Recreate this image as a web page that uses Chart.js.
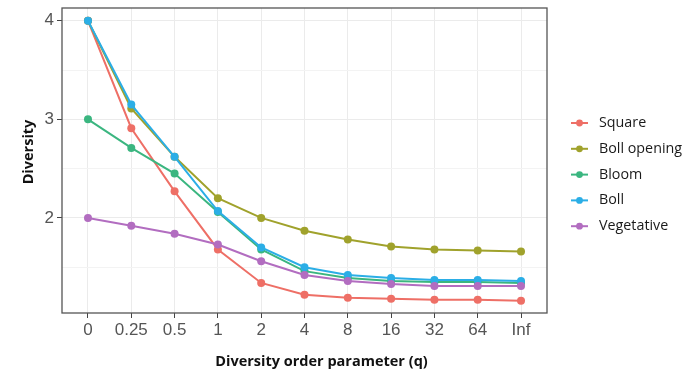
<!DOCTYPE html>
<html>
<head>
<meta charset="utf-8">
<script src="https://cdn.jsdelivr.net/npm/chart.js@4/dist/chart.umd.min.js"></script>
<style>
  html, body { margin: 0; padding: 0; background: #fff; }
  #wrap { width: 696px; height: 374px; position: relative; }
</style>
</head>
<body>
<div id="wrap"><canvas id="divChart"></canvas></div>
<script>
const qLabels = ["0", "0.25", "0.5", "1", "2", "4", "8", "16", "32", "64", "Inf"];
const square = [4.0, 2.91, 2.27, 1.68, 1.34, 1.22, 1.19, 1.18, 1.17, 1.17, 1.16];
const bollOpening = [4.0, 3.11, 2.62, 2.20, 2.00, 1.87, 1.78, 1.71, 1.68, 1.67, 1.66];
const bloom = [3.0, 2.71, 2.45, 2.06, 1.68, 1.46, 1.39, 1.36, 1.35, 1.35, 1.34];
const boll = [4.0, 3.15, 2.62, 2.07, 1.70, 1.50, 1.42, 1.39, 1.37, 1.37, 1.36];
const vegetative = [2.0, 1.92, 1.84, 1.73, 1.56, 1.42, 1.36, 1.33, 1.31, 1.31, 1.31];
const yTicks = [1.5, 2, 2.5, 3, 3.5, 4];

const seriesNames = ["Square", "Boll opening", "Bloom", "Boll", "Vegetative"];
const seriesData = [square, bollOpening, bloom, boll, vegetative];
const seriesColors = ["#EE6F66", "#A0A22C", "#3BB680", "#2BAEE6", "#B26DC0"];

const xTitle = "Diversity order parameter (q)";
const yTitle = "Diversity";

document.addEventListener("DOMContentLoaded", () => {
  const canvas = document.getElementById("divChart");
  const ctx = canvas.getContext("2d");

  const datasets = seriesNames.map((name, i) => ({
    label: name,
    data: seriesData[i].map((v, j) => ({ x: j, y: v })),
    borderColor: seriesColors[i],
    backgroundColor: seriesColors[i],
    borderWidth: 2,
    pointRadius: 4,
    pointHoverRadius: 4,
    pointBorderWidth: 0,
    tension: 0,
    order: seriesNames.length - i
  }));

  // panel border, axis titles and ggplot-style legend
  const panelAndLegend = {
    id: "panelAndLegend",
    afterDatasetsDraw(chart) {
      const { ctx, chartArea } = chart;
      ctx.save();
      ctx.strokeStyle = "#555";
      ctx.lineWidth = 1.3;
      ctx.strokeRect(chartArea.left, chartArea.top,
        chartArea.right - chartArea.left, chartArea.bottom - chartArea.top);

      // axis titles (the figure centres them slightly off the panel centre)
      ctx.fillStyle = "#111";
      ctx.font = "bold 14.5px 'Open Sans'";
      ctx.textAlign = "center";
      ctx.textBaseline = "middle";
      ctx.fillText(xTitle, (chartArea.left + chartArea.right) / 2 + 17, 362);
      ctx.save();
      ctx.translate(29, 152);
      ctx.rotate(-Math.PI / 2);
      ctx.fillText(yTitle, 0, 0);
      ctx.restore();

      const x0 = chartArea.right + 24;
      let y = 123;
      ctx.font = "14.3px 'Open Sans'";
      ctx.textAlign = "left";
      chart.data.datasets.forEach(ds => {
        ctx.strokeStyle = ds.borderColor;
        ctx.fillStyle = ds.borderColor;
        ctx.lineWidth = 2;
        ctx.beginPath();
        ctx.moveTo(x0, y);
        ctx.lineTo(x0 + 17, y);
        ctx.stroke();
        ctx.beginPath();
        ctx.arc(x0 + 8.5, y, 3.4, 0, Math.PI * 2);
        ctx.fill();
        ctx.fillStyle = "#1a1a1a";
        ctx.fillText(ds.label, x0 + 28, y);
        y += 25.8;
      });
      ctx.restore();
    }
  };

  new Chart(ctx, {
    type: "line",
    data: { datasets },
    options: {
      responsive: true,
      maintainAspectRatio: false,
      animation: false,
      layout: { padding: { left: 18, right: 149, top: 8, bottom: 0 } },
      plugins: {
        legend: { display: false },
        tooltip: { enabled: false }
      },
      scales: {
        x: {
          type: "linear",
          min: -0.6,
          max: 10.6,
          afterBuildTicks: axis => {
            axis.ticks = qLabels.map((_, i) => ({ value: i }));
          },
          afterFit: axis => {
            axis.height = 61;
            axis.paddingLeft = 0;
            axis.paddingRight = 0;
          },
          ticks: {
            callback: v => qLabels[v],
            color: "#555",
            font: { family: "'Liberation Sans', Arial", size: 17 },
            padding: 2,
            maxRotation: 0,
            autoSkip: false
          },
          grid: {
            color: "#ebebeb",
            lineWidth: 1,
            tickLength: 5,
            tickColor: "#444"
          },
          border: { display: false }
        },
        y: {
          min: 1.035,
          max: 4.13,
          afterBuildTicks: axis => {
            axis.ticks = yTicks.map(v => ({ value: v }));
          },
          afterFit: axis => {
            axis.width = 44;
            axis.paddingTop = 0;
            axis.paddingBottom = 0;
          },
          ticks: {
            callback: v => (Number.isInteger(v) ? String(v) : ""),
            color: "#555",
            font: { family: "'Liberation Sans', Arial", size: 17 },
            padding: 3
          },
          grid: {
            color: c => (Number.isInteger(c.tick.value) ? "#ebebeb" : "#f3f3f3"),
            lineWidth: 1,
            tickLength: 5,
            tickColor: c => (Number.isInteger(c.tick.value) ? "#444" : "rgba(0,0,0,0)")
          },
          border: { display: false }
        }
      }
    },
    plugins: [panelAndLegend]
  });
});
</script>
</body>
</html>
